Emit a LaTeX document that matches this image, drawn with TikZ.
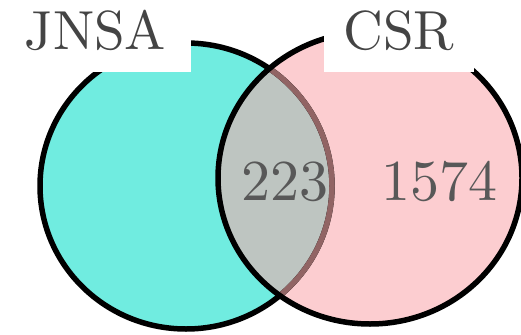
\documentclass[tikz,border=0pt]{standalone}
\usepackage{fontspec}
\usepackage{tikz}
\usetikzlibrary{positioning}

% the 10pt design of Latin Modern, scaled up
\newfontfamily\tenroman{lmroman10-regular}[Extension=.otf]

\definecolor{jnsacyan}{HTML}{70ECE0}
\definecolor{csrpink}{HTML}{FCCDD0}
\definecolor{bothgray}{HTML}{BEC5C1}
\definecolor{hiddenrim}{HTML}{916464}
\definecolor{labelgray}{HTML}{444444}
\definecolor{countgray}{HTML}{585858}

\begin{document}
\begin{tikzpicture}[
        x=1pt, y=-1pt,
        % the two sets
        rim/.style={line width=5.5pt},
        jnsa shape/.style={x radius=146pt, y radius=143pt},
        csr shape/.style={x radius=152pt, y radius=146pt},
        % texts
        set label/.style={fill=white, inner sep=0pt, text=labelgray,
            font=\tenroman\fontsize{55}{60}\selectfont, minimum height=83pt},
        count/.style={inner sep=0pt, anchor=base, text=countgray,
            font=\tenroman\fontsize{58}{62}\selectfont}
    ]
    \clip (0,0) rectangle (521,334);
    \coordinate (jnsa) at (186,186);
    \coordinate (csr) at (370,178);

    % fills
    \fill[jnsacyan] (jnsa) ellipse[jnsa shape];
    \fill[csrpink] (csr) ellipse[csr shape];
    \begin{scope}
        \clip (jnsa) ellipse[jnsa shape];
        \fill[bothgray] (csr) ellipse[csr shape];
    \end{scope}

    % outlines
    \draw[rim] (jnsa) ellipse[jnsa shape];
    \begin{scope}
        \clip (csr) ellipse[csr shape];
        \draw[rim, hiddenrim] (jnsa) ellipse[jnsa shape];
    \end{scope}
    \draw[rim] (csr) ellipse[csr shape];

    % names of the sets
    \node[set label, minimum width=191pt] (jnsa label) at (95.5,30.5) {JNSA};
    \node[set label, minimum width=150pt] (csr label) at (399,30.5) {CSR};

    % counts
    \node[count] (both count) at (285,200) {223};
    \node[count] (csr count) at (439,200) {1574};
\end{tikzpicture}
\end{document}
